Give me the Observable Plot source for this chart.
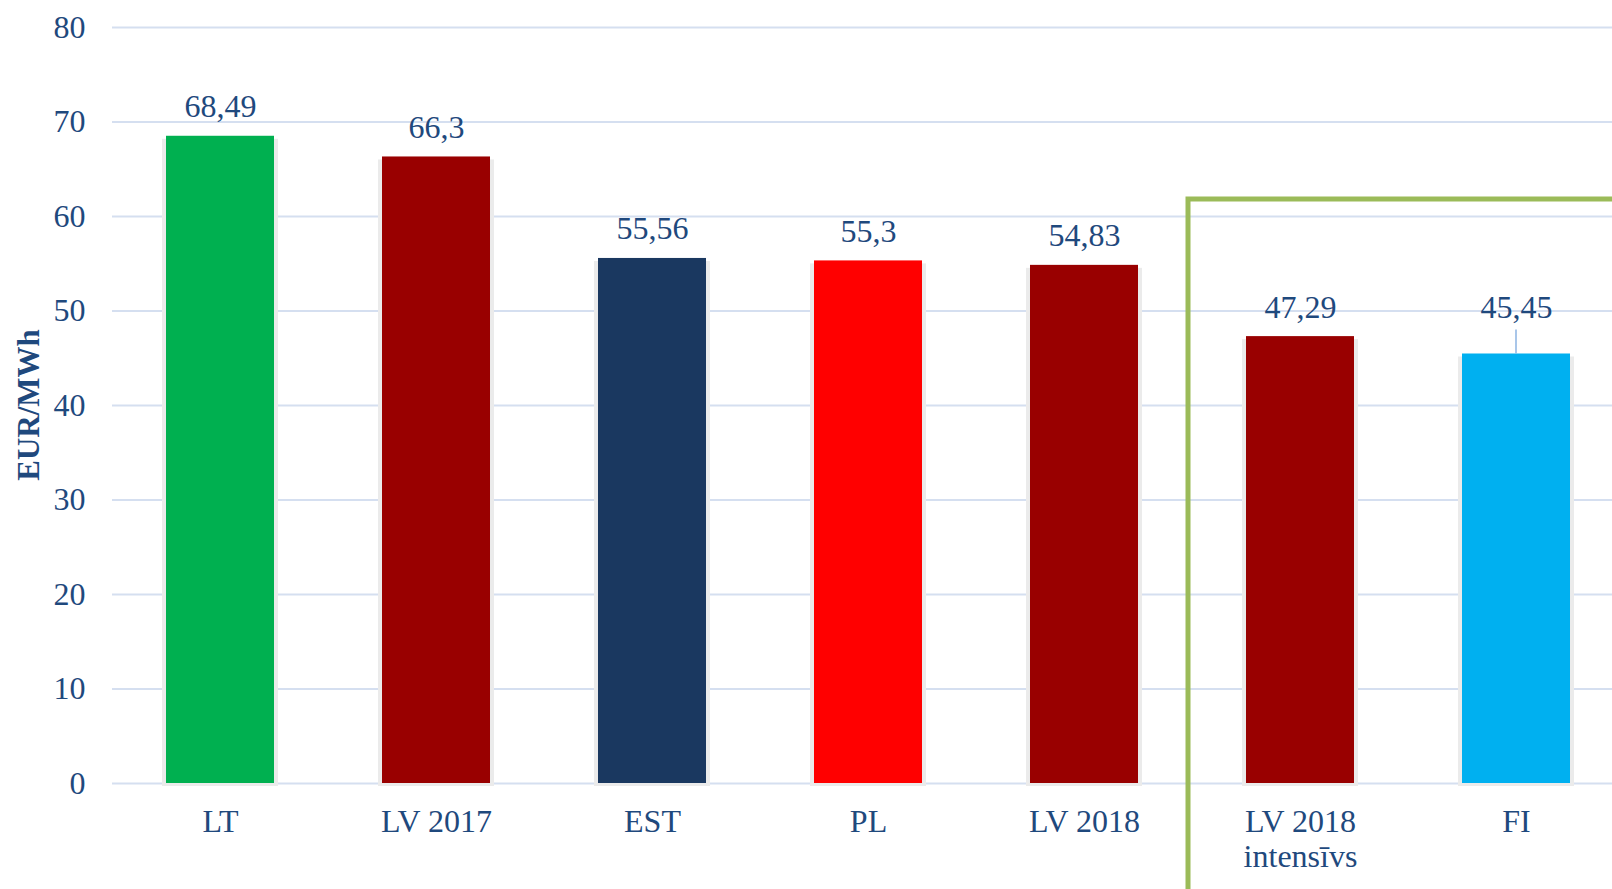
<!DOCTYPE html>
<html>
<head>
<meta charset="utf-8">
<script src="https://cdn.jsdelivr.net/npm/d3@7"></script>
<script src="https://cdn.jsdelivr.net/npm/@observablehq/plot@0.6"></script>
<style>
  html, body { margin: 0; padding: 0; background: #ffffff; }
  #chart svg { display: block; }
</style>
</head>
<body>
<div id="chart"></div>
<script>
const categories = ["LT", "LV 2017", "EST", "PL", "LV 2018", "LV 2018\nintensīvs", "FI"];
const values = [68.49, 66.3, 55.56, 55.3, 54.83, 47.29, 45.45];
const barColors = ["#00b050", "#990000", "#1a3860", "#ff0000", "#990000", "#990000", "#00b0f0"];
const valueLabels = ["68,49", "66,3", "55,56", "55,3", "54,83", "47,29", "45,45"];
const yTicks = [0, 10, 20, 30, 40, 50, 60, 70, 80];
const yLabel = "EUR/MWh";
const leaderCategory = "FI";
const boxStartCategory = "LV 2018\nintensīvs";
const boxTopValue = 61.8;

const textColor = "#1f497d";
const fontFamily = "'Liberation Serif', 'Times New Roman', serif";
const data = categories.map((c, i) => ({category: c, value: values[i], color: barColors[i], label: valueLabels[i]}));

function bandInfo(x) {
  const step = x(categories[1]) - x(categories[0]);
  let bw = x.bandwidth;
  if (typeof bw === "function") bw = bw();
  if (!(bw > 0)) bw = step * 0.5;
  return {step, bw};
}

const leaderMark = (index, scales) => {
  const x = scales.x, y = scales.y;
  const {bw} = bandInfo(x);
  const d = data.find(d => d.category === leaderCategory);
  const cx = x(d.category) + bw / 2;
  const top = y(d.value);
  const g = d3.create("svg:g");
  g.append("line").attr("x1", cx).attr("x2", cx).attr("y1", top).attr("y2", top - 24)
    .attr("stroke", "#8db3e2").attr("stroke-width", 1.5);
  return g.node();
};

const boxMark = (index, scales, values, dimensions) => {
  const x = scales.x, y = scales.y;
  const {step} = bandInfo(x);
  const left = x(boxStartCategory) - step / 4 - 4;
  const top = y(boxTopValue);
  const g = d3.create("svg:g");
  g.append("path")
    .attr("d", `M${left},${dimensions.height + 10}V${top}H${dimensions.width + 10}`)
    .attr("fill", "none").attr("stroke", "#9bbb59").attr("stroke-width", 5);
  return g.node();
};

const yLabelMark = (index, scales) => {
  const y = scales.y;
  const cy = (y(yTicks[0]) + y(yTicks[yTicks.length - 1])) / 2;
  const g = d3.create("svg:g");
  g.append("text")
    .attr("transform", `translate(28,${cy}) rotate(-90)`)
    .attr("text-anchor", "middle")
    .attr("dy", "0.35em")
    .attr("font-weight", "bold")
    .attr("font-family", fontFamily)
    .attr("font-size", 31)
    .attr("fill", textColor)
    .text(yLabel);
  return g.node();
};

const chart = Plot.plot({
  width: 1612,
  height: 889,
  marginLeft: 112,
  marginRight: 0,
  marginTop: 27,
  marginBottom: 106,
  style: {fontFamily: fontFamily, fontSize: "32px", color: textColor, background: "#ffffff"},
  x: {domain: categories, range: [112, 1624], paddingInner: 0.5, paddingOuter: 0.25, label: null},
  y: {domain: [0, 80], label: null},
  color: {type: "identity"},
  marks: [
    Plot.ruleY(yTicks, {stroke: "#d5dff0", strokeWidth: 2}),
    Plot.barY(data, {x: "category", y: "value", fill: "#ebebeb", insetLeft: -4, insetRight: -4, dy: 3}),
    Plot.barY(data, {x: "category", y: "value", fill: "color"}),
    Plot.text(data.filter(d => d.category !== leaderCategory), {x: "category", y: "value", text: "label", dy: -19, lineAnchor: "bottom", fill: textColor}),
    Plot.text(data.filter(d => d.category === leaderCategory), {x: "category", y: "value", text: "label", dy: -36, lineAnchor: "bottom", fill: textColor}),
    leaderMark,
    boxMark,
    Plot.axisY({ticks: yTicks, tickSize: 0, tickPadding: 27, label: null, fill: textColor}),
    Plot.axisX({tickSize: 0, tickPadding: 24, lineHeight: 1.09, label: null, fill: textColor}),
    yLabelMark
  ]
});
document.getElementById("chart").appendChild(chart);
</script>
</body>
</html>
